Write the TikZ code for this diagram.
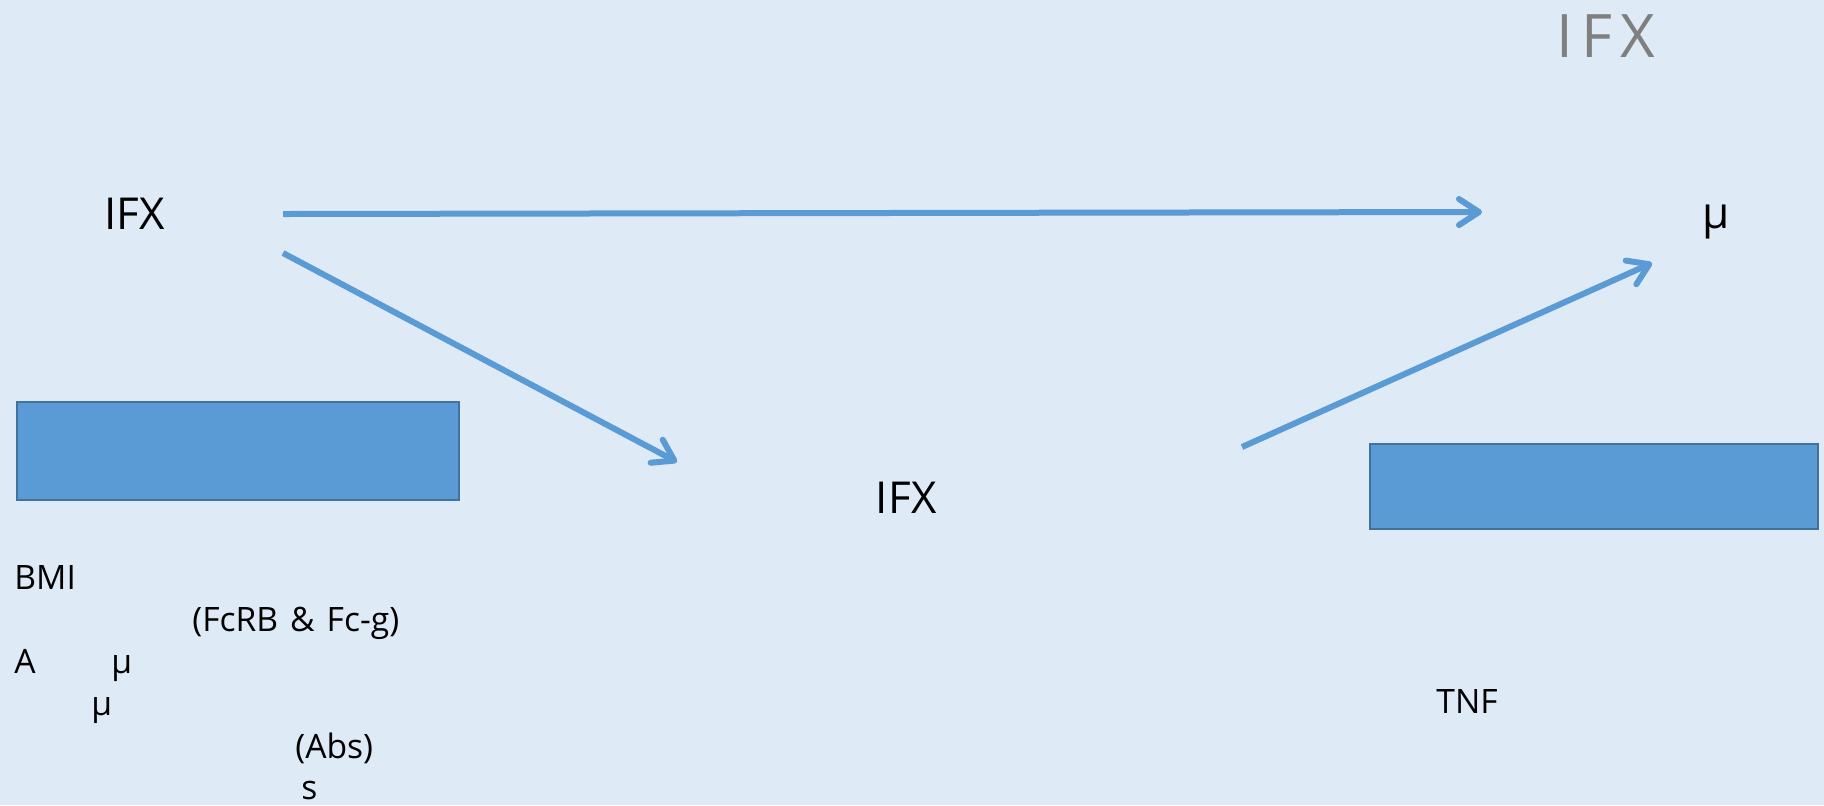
\documentclass[tikz,border=0pt]{standalone}
\usepackage{fontspec}
\setmainfont{Open Sans}
\usetikzlibrary{arrows.meta}
\definecolor{bgblue}{HTML}{DEEAF6}
\definecolor{linkblue}{HTML}{5B9BD5}
\definecolor{boxedge}{HTML}{41719C}
\definecolor{titlegray}{HTML}{7F7F7F}

\begin{document}
\begin{tikzpicture}[x=0.5pt,y=-0.5pt,
  lbl/.style={inner sep=0pt, anchor=base west, font=\fontsize{16.8}{20}\selectfont},
  big/.style={inner sep=0pt, anchor=base west, font=\fontsize{22}{26}\selectfont},
  title/.style={inner sep=0pt, anchor=base west, text=titlegray, font=\fontsize{30}{36}\selectfont},
  link/.style={draw=linkblue, line width=3pt,
    -{Straight Barb[round, length=10pt, width=13pt]}},
  bar/.style={fill=linkblue, draw=boxedge, line width=0.8pt}]

  % canvas
  \fill[bgblue] (0,0) rectangle (1824,805);
  \useasboundingbox (0,0) rectangle (1824,805);

  % title
  \node[title] (title) at (1556,57) {I\kern4pt F\kern4pt X};

  % main labels
  \node[big] (src) at (104,229) {IFX};
  \node[big] (mid) at (875,513) {I\kern0.5pt FX};
  \node[big] (out) at (1702,228) {μ};

  % arrow end points
  \coordinate (srcA) at (283,214);
  \coordinate (outA) at (1482,212);
  \coordinate (srcB) at (283,253);
  \coordinate (midB) at (677,462);
  \coordinate (midC) at (1242,447);
  \coordinate (outC) at (1652,263);

  \draw[link] (srcA) -- (outA);
  \draw[link] (srcB) -- (midB);
  \draw[link] (midC) -- (outC);

  % boxes
  \draw[bar] (17,402) rectangle (459,500);
  \draw[bar] (1370,444) rectangle (1818,529);

  % notes, left
  \node[lbl] (bmi) at (14,589) {BMI};
  \node[lbl] (fc) at (192,631) {(FcRB\hspace{6pt}\&\hspace{6pt}Fc-g)};
  \node[lbl] (a) at (14,673) {A};
  \node[lbl] (mu1) at (111,673) {μ};
  \node[lbl] (mu2) at (91,715) {μ};
  \node[lbl] (abs) at (295,758) {(Abs)};
  \node[lbl] (s) at (301,799) {s};

  % notes, right
  \node[lbl] (tnf) at (1436,713) {TNF};
\end{tikzpicture}
\end{document}
